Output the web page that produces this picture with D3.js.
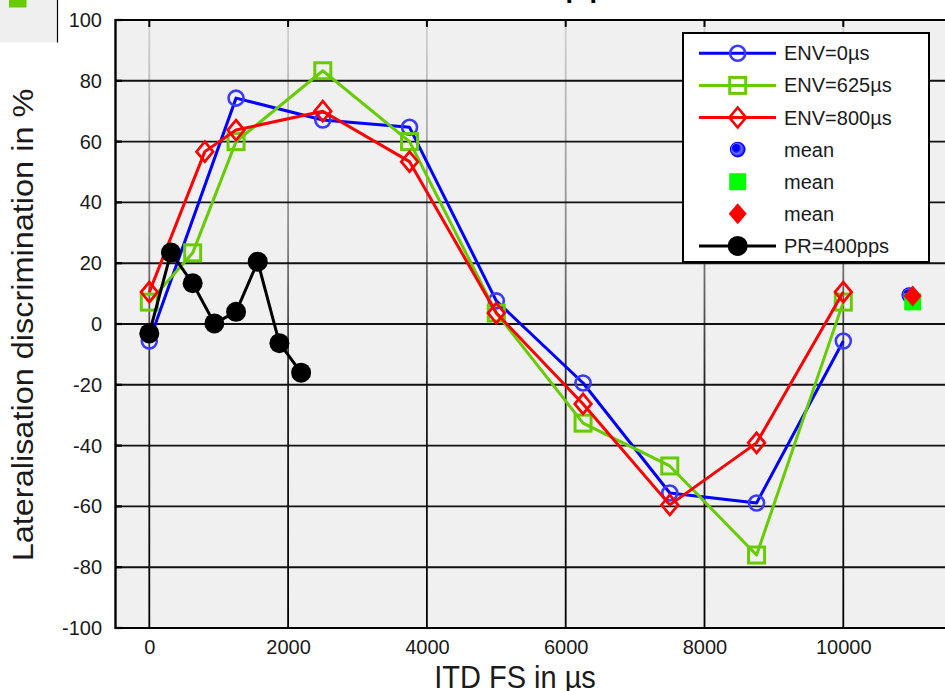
<!DOCTYPE html>
<html><head><meta charset="utf-8">
<script src="https://cdn.jsdelivr.net/npm/d3@7"></script>
<style>body{margin:0;background:#fff;overflow:hidden}svg{display:block}text{font-family:"Liberation Sans",Arial,Helvetica,sans-serif}</style>
</head><body><svg id="c" width="945" height="691"></svg>
<script>
// ---- data ----
const xTicks = [0, 2000, 4000, 6000, 8000, 10000];
const yTicks = [-100, -80, -60, -40, -20, 0, 20, 40, 60, 80, 100];
const env0X   = [0, 1250, 2500, 3750, 5000, 6250, 7500, 8750, 10000];
const env0Y   = [-5.6, 74.3, 67.1, 64.7, 7.6, -19.4, -55.6, -58.9, -5.6];
const env625X = [0, 625, 1250, 2500, 3750, 5000, 6250, 7500, 8750, 10000];
const env625Y = [7.2, 23.4, 60, 83.3, 60, 3.6, -32.6, -46.7, -76, 7.2];
const env800X = [0, 800, 1250, 2500, 3750, 5000, 6250, 7500, 8750, 10000];
const env800Y = [10.5, 56.7, 63.8, 70, 53.4, 3.6, -26.3, -59.5, -39.1, 10.5];
const prX = [0, 312.5, 625, 937.5, 1250, 1562.5, 1875, 2187.5];
const prY = [-3.1, 23.5, 13.4, 0.2, 4, 20.5, -6.3, -16];
const meanX = [10950, 11000, 11000];
const meanY = [9.5, 7.3, 9.2];
const legendLabels = ["ENV=0\u00b5s", "ENV=625\u00b5s", "ENV=800\u00b5s", "mean", "mean", "mean", "PR=400pps"];
const xLabel = "ITD FS in \u00b5s";
const yLabel = "Lateralisation discrimination in %";
const titleText = "400 pps";

// ---- drawing ----
const svg = d3.select("#c");
const x = d3.scaleLinear().domain([-500, 11500]).range([114.6, 947.4]);
const y = d3.scaleLinear().domain([-100, 100]).range([628, 20]);
const L = 115, R = 947, T = 20, B = 628;
const defs = svg.append("defs");
const vg = defs.append("linearGradient").attr("id", "vg").attr("gradientUnits", "userSpaceOnUse")
  .attr("x1", 0).attr("y1", T).attr("x2", 0).attr("y2", B);
vg.append("stop").attr("offset", "0%").attr("stop-color", "#d2d2d2");
vg.append("stop").attr("offset", "35%").attr("stop-color", "#8a8a8a");
vg.append("stop").attr("offset", "60%").attr("stop-color", "#222");
vg.append("stop").attr("offset", "100%").attr("stop-color", "#000");
const rg = defs.append("radialGradient").attr("id", "bm").attr("fx", "30%").attr("fy", "30%").attr("cx", "55%").attr("cy", "55%").attr("r", "60%");
rg.append("stop").attr("offset", "0%").attr("stop-color", "#0000ff");
rg.append("stop").attr("offset", "35%").attr("stop-color", "#0000ff");
rg.append("stop").attr("offset", "55%").attr("stop-color", "#7070ff");
rg.append("stop").attr("offset", "75%").attr("stop-color", "#0000ff");

// top-left fragment
svg.append("rect").attr("x", 0).attr("y", 0).attr("width", 57).attr("height", 42.5).attr("fill", "#efefef");
svg.append("line").attr("x1", 57.5).attr("x2", 57.5).attr("y1", 0).attr("y2", 42.5).attr("stroke", "#000").attr("stroke-width", 1.2);
svg.append("rect").attr("x", 9).attr("y", 0).attr("width", 17.5).attr("height", 7.5).attr("fill", "#66cc00");

// title (mostly cut off at the top edge, only descenders visible)
svg.append("text").attr("x", 483).attr("y", -2.7).attr("font-size", 27).attr("font-weight", "bold")
  .attr("letter-spacing", 7.5).text(titleText);

// plot background
svg.append("rect").attr("x", L).attr("y", T).attr("width", R - L).attr("height", B - T).attr("fill", "#f0f0f0");

// grid
svg.append("g").selectAll("line").data(xTicks).join("line")
  .attr("x1", d => x(d)).attr("x2", d => x(d)).attr("y1", T).attr("y2", B)
  .attr("stroke", "url(#vg)").attr("stroke-width", 1.8);
svg.append("g").selectAll("line").data(yTicks.filter(d => d > -100 && d < 100)).join("line")
  .attr("x1", L).attr("x2", R).attr("y1", d => y(d)).attr("y2", d => y(d))
  .attr("stroke", "#111").attr("stroke-width", 1.9);

// frame
svg.append("line").attr("x1", L).attr("x2", R).attr("y1", T).attr("y2", T).attr("stroke", "#000").attr("stroke-width", 2.2);
svg.append("line").attr("x1", L).attr("x2", R).attr("y1", B).attr("y2", B).attr("stroke", "#000").attr("stroke-width", 2.2);
svg.append("line").attr("x1", L + 0.5).attr("x2", L + 0.5).attr("y1", T - 1).attr("y2", B + 1).attr("stroke", "#000").attr("stroke-width", 2.4);
// inner ticks
svg.append("g").selectAll("line").data(xTicks).join("line")
  .attr("x1", d => x(d)).attr("x2", d => x(d)).attr("y1", T).attr("y2", T + 7)
  .attr("stroke", "#000").attr("stroke-width", 2);
svg.append("g").selectAll("line").data(yTicks).join("line")
  .attr("x1", L).attr("x2", L + 7).attr("y1", d => y(d)).attr("y2", d => y(d))
  .attr("stroke", "#000").attr("stroke-width", 2.2);

// axes labels via d3 axes
const xa = svg.append("g").attr("transform", `translate(0,${B})`)
  .call(d3.axisBottom(x).tickValues(xTicks).tickSize(0).tickPadding(11.8).tickFormat(d => String(d)));
xa.select(".domain").remove();
xa.selectAll("text").attr("font-size", 20).attr("fill", "#1a1a1a").attr("font-family", null);
const ya = svg.append("g").attr("transform", `translate(${L},0)`)
  .call(d3.axisLeft(y).tickValues(yTicks).tickSize(0).tickPadding(13).tickFormat(d => String(d)));
ya.select(".domain").remove();
ya.selectAll("text").attr("font-size", 20).attr("fill", "#1a1a1a").attr("font-family", null);

svg.append("text").attr("transform", "translate(515,688) scale(1,1.08)").attr("text-anchor", "middle")
  .attr("font-size", 29).attr("fill", "#1a1a1a").text(xLabel);
svg.append("text").attr("transform", "translate(33,325) rotate(-90) scale(1.12,1)").attr("text-anchor", "middle")
  .attr("font-size", 29).attr("fill", "#1a1a1a").text(yLabel);

// series
const line = d3.line().x(d => x(d[0])).y(d => y(d[1]));
const zip = (a, b) => a.map((v, i) => [v, b[i]]);
const diamond = (hw, hh) => `M0,${-hh}L${hw},0L0,${hh}L${-hw},0Z`;
const series = [
  {pts: zip(env0X, env0Y), color: "#0000ff", marker: "circle"},
  {pts: zip(env625X, env625Y), color: "#66cc00", marker: "square"},
  {pts: zip(env800X, env800Y), color: "#ff0000", marker: "diamond"},
  {pts: zip(prX, prY), color: "#000000", marker: "dot"}
];
function drawMarker(g, type, color) {
  if (type === "circle") g.append("circle").attr("r", 7.5).attr("fill", "none").attr("stroke", "#3a3aff").attr("stroke-width", 2.6);
  else if (type === "square") g.append("rect").attr("x", -8).attr("y", -8).attr("width", 16).attr("height", 16).attr("fill", "none").attr("stroke", color).attr("stroke-width", 3);
  else if (type === "diamond") g.append("path").attr("d", diamond(8.3, 10)).attr("fill", "none").attr("stroke", color).attr("stroke-width", 2.7);
  else if (type === "dot") g.append("circle").attr("r", 10).attr("fill", "#000");
  else if (type === "mcircle") g.append("circle").attr("r", 7.8).attr("fill", "url(#bm)");
  else if (type === "msquare") g.append("rect").attr("x", -8.5).attr("y", -8.5).attr("width", 17).attr("height", 17).attr("fill", "#00ff00");
  else if (type === "mdiamond") g.append("path").attr("d", diamond(9, 10.5)).attr("fill", "#ff0000");
}
const meanTypes = ["mcircle", "msquare", "mdiamond"];
meanX.forEach((mx, i) => {
  const g = svg.append("g").attr("transform", `translate(${x(mx)},${y(meanY[i])})`);
  drawMarker(g, meanTypes[i]);
});
series.forEach(s => {
  svg.append("path").attr("d", line(s.pts)).attr("fill", "none").attr("stroke", s.color).attr("stroke-width", 3).attr("stroke-linejoin", "round");
  s.pts.forEach(p => drawMarker(svg.append("g").attr("transform", `translate(${x(p[0])},${y(p[1])})`), s.marker, s.color));
});

// legend
const lg = svg.append("g");
lg.append("rect").attr("x", 683).attr("y", 33).attr("width", 246).attr("height", 229).attr("fill", "#fff").attr("stroke", "#000").attr("stroke-width", 2);
const legItems = [
  {c: "#0000ff", m: "circle", line: true}, {c: "#66cc00", m: "square", line: true}, {c: "#ff0000", m: "diamond", line: true},
  {c: "#0000ff", m: "mcircle", line: false}, {c: "#00ff00", m: "msquare", line: false}, {c: "#ff0000", m: "mdiamond", line: false},
  {c: "#000", m: "dot", line: true}
];
legItems.forEach((it, i) => {
  const cy = 53.3 + i * 32.1;
  if (it.line) lg.append("line").attr("x1", 699).attr("x2", 776).attr("y1", cy).attr("y2", cy).attr("stroke", it.c).attr("stroke-width", 3);
  drawMarker(lg.append("g").attr("transform", `translate(737.7,${cy})`), it.m, it.c);
  lg.append("text").attr("x", 784).attr("y", cy + 7).attr("font-size", 20).attr("fill", "#1a1a1a").text(legendLabels[i]);
});
</script></body></html>
